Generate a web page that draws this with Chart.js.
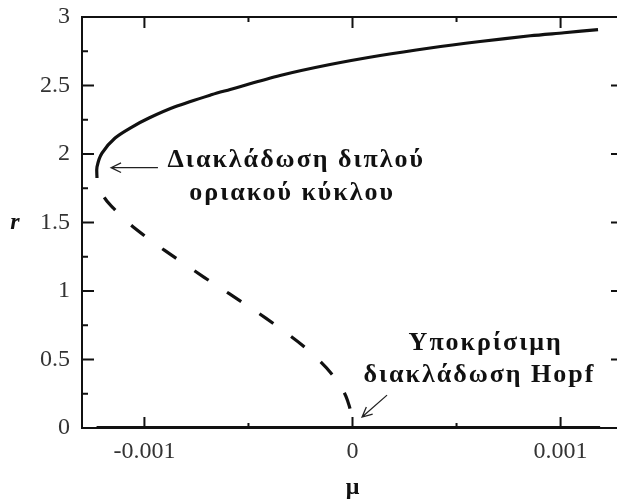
<!DOCTYPE html>
<html lang="el">
<head>
<meta charset="UTF-8">
<title>Διακλάδωση Hopf</title>
<style>
  html, body { margin: 0; padding: 0; background: #fff; overflow: hidden; }
  #wrap { width: 626px; height: 502px; }
</style>
</head>
<body>
<div id="wrap"><canvas id="myChart" width="626" height="502"></canvas></div>
<script src="https://cdn.jsdelivr.net/npm/chart.js"></script>
<script>
// ---- data ----
// stable limit cycle (solid)
var upperMu = [-0.001228, -0.001228, -0.001204, -0.001141, -0.00106, -0.000978, -0.000853, -0.000675,
               -0.000588, -0.000348, -0.000108, 0.000133, 0.000373, 0.000613, 0.000854, 0.001017, 0.00118];
var upperR  = [1.825, 1.905, 2.007, 2.117, 2.197, 2.263, 2.345, 2.434,
               2.471, 2.573, 2.653, 2.719, 2.774, 2.821, 2.863, 2.885, 2.908];

// unstable limit cycle (dashed)
var lowerMu = [-0.001223, -0.001199, -0.001146, -0.001079, -0.000997, -0.000906, -0.00081, -0.000713, -0.000612, -0.000512,
               -0.000415, -0.000324, -0.000238, -0.000165, -0.000103, -0.000055, -0.000024, -0.000007, 0.0];
var lowerR  = [1.80, 1.70, 1.60, 1.50, 1.40, 1.30, 1.20, 1.10, 1.00, 0.90,
               0.80, 0.70, 0.60, 0.50, 0.40, 0.30, 0.20, 0.10, 0.0];

// r = 0 branch
var zeroMu = [-0.00123, 0.00119];
var zeroR  = [0, 0];

var xTicks = [-0.001, 0, 0.001];
var xTickLabels = ['-0.001', '0', '0.001'];
var xMinor = [-0.0005, 0.0005];
var yTicks = [0, 0.5, 1, 1.5, 2, 2.5, 3];
var yTickLabels = ['0', '0.5', '1', '1.5', '2', '2.5', '3'];
var yMinor = [0.25, 0.75, 1.25, 1.75, 2.25, 2.75];

var xLabel = 'μ';
var yLabel = 'r';
var note1 = ['Διακλάδωση διπλού', 'οριακού κύκλου'];
var note2 = ['Υποκρίσιμη', 'διακλάδωση Hopf'];

function pts(xs, ys) {
    return xs.map(function (x, i) { return { x: x, y: ys[i] }; });
}

var serif = "'Liberation Serif', 'Times New Roman', serif";
var ink = '#111';

// frame, inward ticks, tick labels, titles and arrows
var decor = {
    id: 'decor',
    beforeDatasetsDraw: function (chart) {
        var c = chart.ctx, a = chart.chartArea;
        var xs = chart.scales.x, ys = chart.scales.y;
        c.save();
        c.strokeStyle = ink;
        c.lineWidth = 2;
        c.strokeRect(a.left, a.top, a.right - a.left, a.bottom - a.top);

        function yTick(v, len) {
            var p = ys.getPixelForValue(v);
            c.beginPath();
            c.moveTo(a.left, p); c.lineTo(a.left + len, p);
            c.moveTo(a.right, p); c.lineTo(a.right - len, p);
            c.stroke();
        }
        function xTick(v, len) {
            var p = xs.getPixelForValue(v);
            c.beginPath();
            c.moveTo(p, a.bottom); c.lineTo(p, a.bottom - len);
            c.moveTo(p, a.top); c.lineTo(p, a.top + len);
            c.stroke();
        }
        yTicks.forEach(function (v) { yTick(v, 12); });
        yMinor.forEach(function (v) { yTick(v, 6); });
        xTicks.forEach(function (v) { xTick(v, 11); });
        xMinor.forEach(function (v) { xTick(v, 5); });

        // tick labels
        c.fillStyle = '#333';
        c.font = '24px ' + serif;
        c.textBaseline = 'middle';
        c.textAlign = 'right';
        yTicks.forEach(function (v, i) { c.fillText(yTickLabels[i], a.left - 12, ys.getPixelForValue(v)); });
        c.textAlign = 'center';
        xTicks.forEach(function (v, i) { c.fillText(xTickLabels[i], xs.getPixelForValue(v), a.bottom + 24); });
        c.restore();
    },
    afterDraw: function (chart) {
        var c = chart.ctx, a = chart.chartArea;
        var xs = chart.scales.x, ys = chart.scales.y;
        function X(v) { return xs.getPixelForValue(v); }
        function Y(v) { return ys.getPixelForValue(v); }
        c.save();
        c.fillStyle = ink;
        c.textAlign = 'center';
        c.textBaseline = 'middle';

        // axis titles
        c.font = 'bold 24px ' + serif;
        c.fillText(xLabel, X(0), a.bottom + 60);
        c.font = 'italic bold 24px ' + serif;
        c.fillText(yLabel, 15, Y(1.5));

        // annotations
        c.font = 'bold 26px ' + serif;
        c.letterSpacing = '2px';
        c.fillText(note1[0], X(-0.00027), Y(1.955));
        c.fillText(note1[1], X(-0.00029), Y(1.715));
        c.fillText(note2[0], X(0.00064), Y(0.62));
        c.fillText(note2[1], X(0.00061), Y(0.385));
        c.letterSpacing = '0px';

        function arrow(x0, y0, x1, y1) {
            var ang = Math.atan2(y1 - y0, x1 - x0), h = 11;
            c.strokeStyle = '#222';
            c.lineWidth = 1.3;
            c.beginPath();
            c.moveTo(x0, y0); c.lineTo(x1, y1);
            c.moveTo(x1 - h * Math.cos(ang - 0.45), y1 - h * Math.sin(ang - 0.45));
            c.lineTo(x1, y1);
            c.lineTo(x1 - h * Math.cos(ang + 0.45), y1 - h * Math.sin(ang + 0.45));
            c.stroke();
        }
        arrow(X(-0.000935), Y(1.90), X(-0.00116), Y(1.90));
        arrow(X(0.000166), Y(0.24), X(0.000046), Y(0.08));
        c.restore();
    }
};

var ctx = document.getElementById('myChart').getContext('2d');
new Chart(ctx, {
    type: 'line',
    data: {
        datasets: [{
            data: pts(zeroMu, zeroR),
            borderColor: ink, borderWidth: 4, pointRadius: 0
        }, {
            data: pts(upperMu, upperR),
            borderColor: ink, borderWidth: 3.2, pointRadius: 0, tension: 0.3
        }, {
            data: pts(lowerMu, lowerR),
            borderColor: ink, borderWidth: 3.2, pointRadius: 0,
            cubicInterpolationMode: 'monotone',
            borderDash: [17, 22], borderDashOffset: 22
        }]
    },
    options: {
        responsive: false,
        animation: false,
        layout: { padding: { top: 17, right: 3, left: 0, bottom: 0 } },
        plugins: { legend: { display: false }, tooltip: { enabled: false } },
        scales: {
            x: {
                type: 'linear', min: -0.0013, max: 0.0013,
                grid: { display: false, drawTicks: false },
                border: { display: false },
                ticks: { display: false },
                afterFit: function (s) { s.height = 74; }
            },
            y: {
                min: 0, max: 3,
                grid: { display: false, drawTicks: false },
                border: { display: false },
                ticks: { display: false },
                afterFit: function (s) { s.width = 82; }
            }
        }
    },
    plugins: [decor]
});
</script>
</body>
</html>
